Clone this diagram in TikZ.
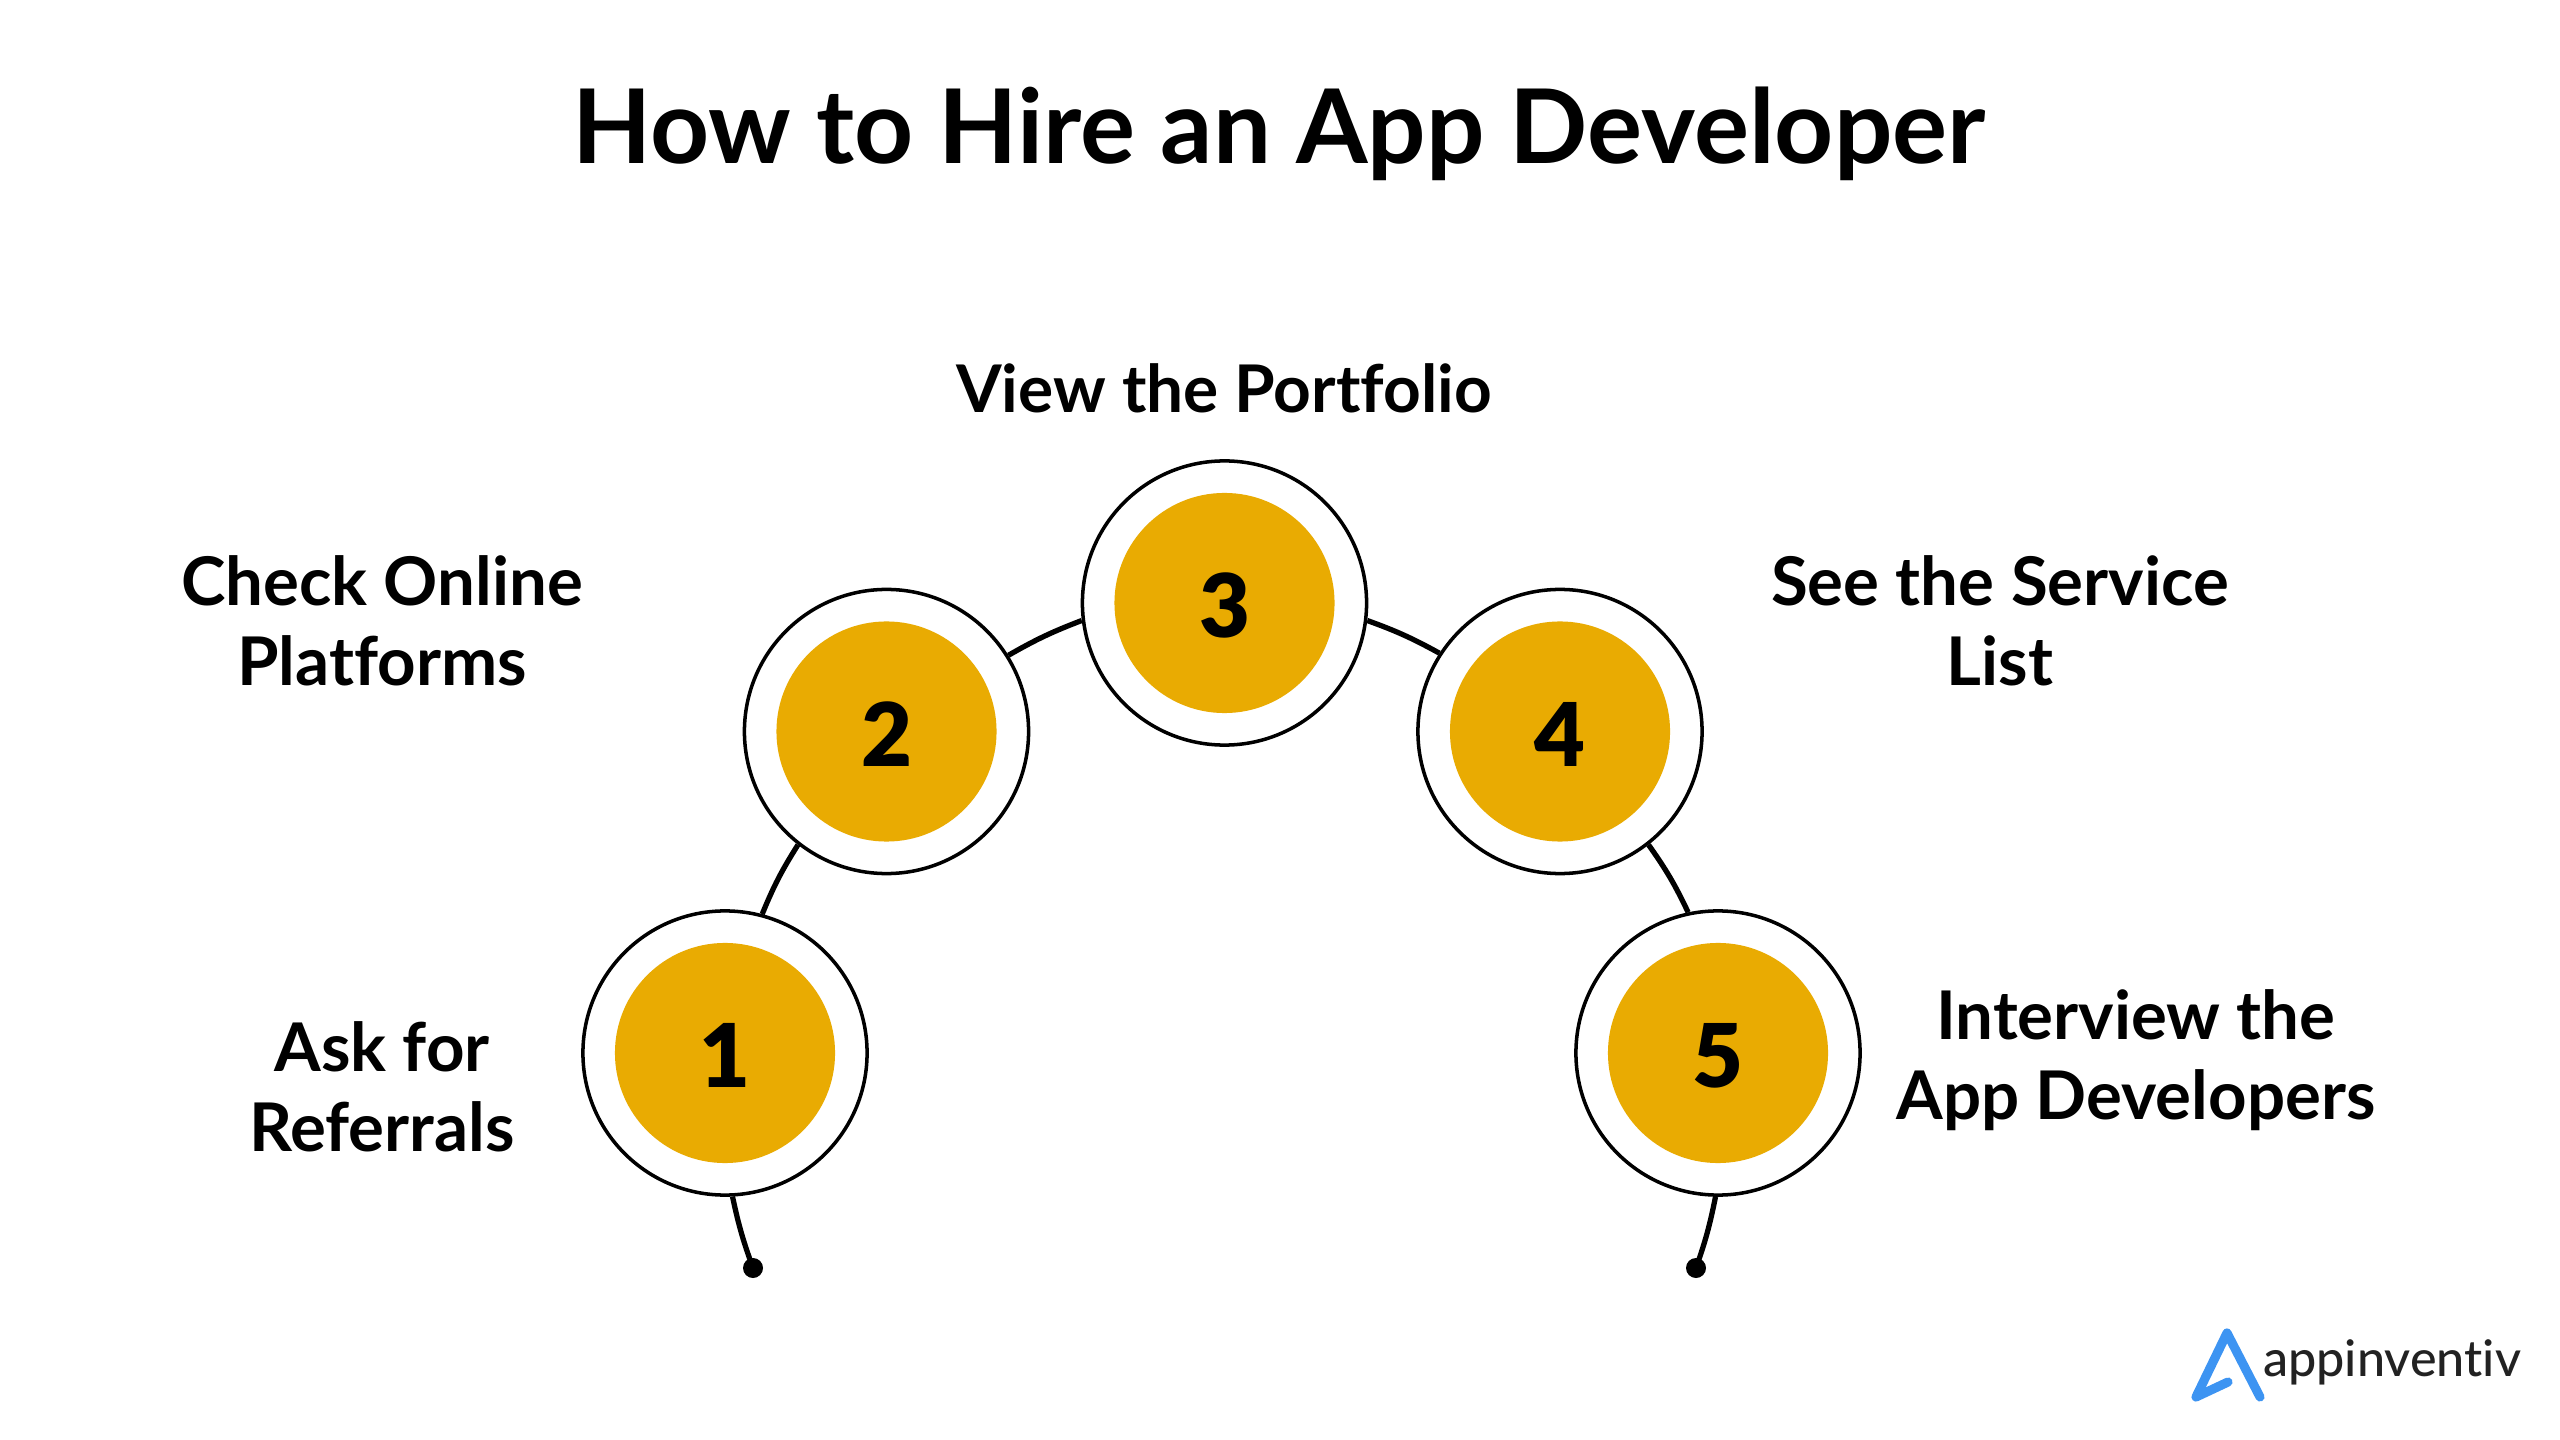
\documentclass[tikz,border=0pt]{standalone}
\usepackage{fontspec}
\setmainfont[Ligatures=NoCommon]{Lato}
\newfontfamily\numfont{Lato Black}
\newfontfamily\brandfont[Ligatures=NoCommon]{Lato Medium}
\definecolor{stepgold}{HTML}{E9AB02}
\definecolor{logoblue}{HTML}{3D94F2}
\definecolor{logotext}{HTML}{222222}
\begin{document}
\begin{tikzpicture}[x=0.01cm,y=-0.01cm]
      \tikzstyle{every node}+=[inner sep=0pt]
      \tikzstyle{ring}=[draw=black,line width=1pt,fill=white,circle,minimum size=2.84cm]
      \tikzstyle{disc}=[fill=stepgold,circle,minimum size=2.2cm,text height=19.7pt,text depth=0pt,font=\numfont\fontsize{25}{25}\selectfont]
      \tikzstyle{label}=[align=center,font=\fontsize{19.1}{22.8}\selectfont\bfseries]
      \tikzstyle{arc}=[black,line width=1.5pt]
      \tikzstyle{enddot}=[fill=black,circle,minimum size=0.2cm]
      \useasboundingbox (0,0) rectangle (2560,1440);
      \draw (1279,134) node (title) {\fontsize{29.3}{29.3}\selectfont\bfseries How to Hire an App Developer};
      \draw (725,1053) node[ring] (ring1) {};
      \draw (725,1053) node[disc] (step1) {1};
      \draw (886.5,731.5) node[ring] (ring2) {};
      \draw (886.5,731.5) node[disc] (step2) {2};
      \draw (1224.5,603) node[ring] (ring3) {};
      \draw (1224.5,603) node[disc] (step3) {3};
      \draw (1560,731.5) node[ring] (ring4) {};
      \draw (1560,731.5) node[disc] (step4) {4};
      \draw (1718,1053) node[ring] (ring5) {};
      \draw (1718,1053) node[disc] (step5) {5};
      \draw (753,1268) node[enddot] (dot1) {};
      \draw (1696,1268) node[enddot] (dot5) {};
      \draw [arc] (dot1.center) to[bend left=4] (ring1.273);
      \draw [arc] (ring1.75) to[bend left=5] (ring2.232);
      \draw [arc] (ring2.32.6) to[bend left=4.5] (ring3.187.7);
      \draw [arc] (ring3.-7.7) to[bend left=4.5] (ring4.147.4);
      \draw [arc] (ring4.-52) to[bend left=5] (ring5.102);
      \draw [arc] (ring5.269) to[bend left=4] (dot5.center);
      \draw (1224,388) node[label,font=\fontsize{18.7}{22.8}\selectfont\bfseries] (view) {View the Portfolio};
      \draw (382,621) node[label] (check) {Check Online\\Platforms};
      \draw (2000,621) node[label] (service) {See the Service\\List};
      \draw (382,1087) node[label] (ask) {Ask for\\Referrals};
      \draw (2136,1060) node[label] (interview) {Interview the\\App Developers};
      \draw [logoblue,line width=2.6pt,line cap=round,line join=round] (2260,1397) -- (2227,1333) -- (2196,1397) -- (2228,1382);
      \draw (2392,1362) node[text=logotext,font=\brandfont\fontsize{14.3}{14.3}\selectfont] (brand) {appinventiv};
    \end{tikzpicture}
\end{document}
